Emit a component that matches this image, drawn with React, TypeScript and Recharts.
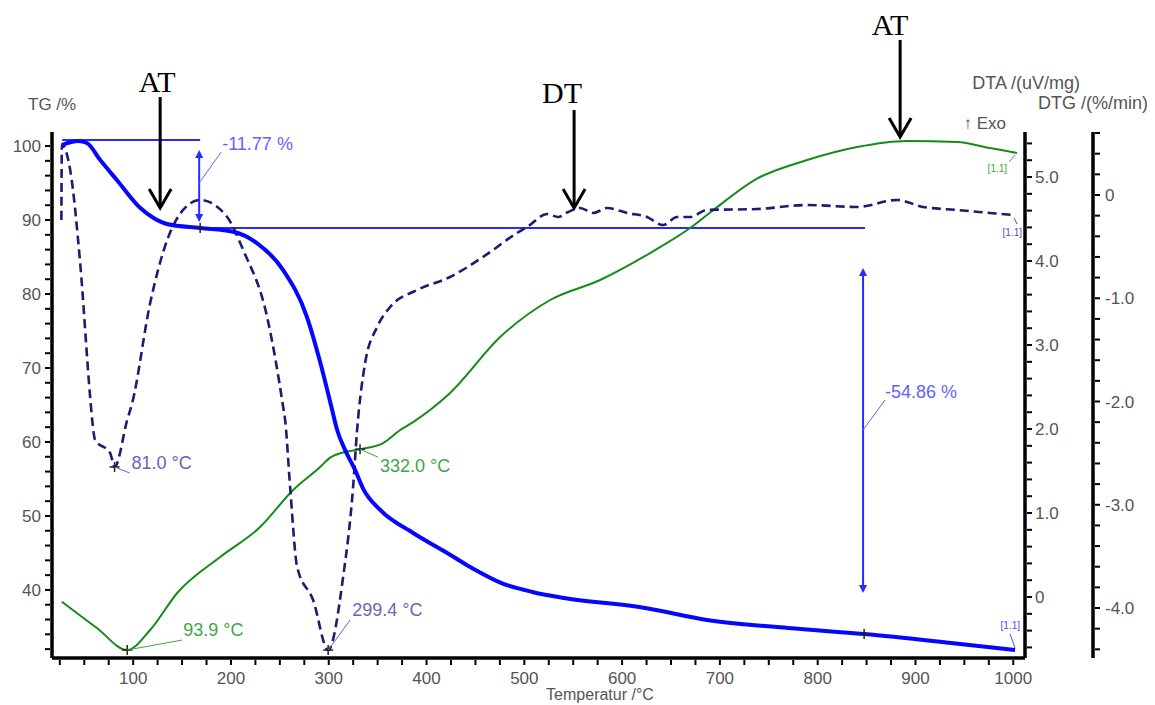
import React from 'react';
import { LineChart, Line, XAxis, YAxis, ReferenceLine, ReferenceDot } from 'recharts';

// TG /% (solid blue)
const tgTemp = [27.1, 43.8, 52.7, 66.3, 83.3, 107.4, 120.5, 134.5, 168.5, 202.2, 226.5, 253.4, 277.6, 291.2, 303.5, 308.6, 316.8, 326.9, 335.1, 352.6, 386.3, 421.1, 444.6, 477.3, 508.2, 540.7, 623.5, 686.9, 769.7, 847.5, 936.4, 1001.8];
const tgValues = [100.14, 100.68, 100.41, 98.1, 95.41, 91.62, 90.3, 89.46, 88.92, 88.42, 86.89, 83.24, 76.93, 70.81, 64.32, 61.62, 58.9, 56.22, 53.7, 50.81, 47.7, 45.0, 43.11, 40.9, 39.73, 38.92, 37.57, 35.95, 34.86, 34.05, 32.84, 31.89];

// DTA /(uV/mg) (green)
const dtaTemp = [27.1, 62.9, 93.9, 117.4, 145.0, 188.9, 229.8, 263.6, 291.2, 301.4, 314.7, 332.0, 355.6, 373.0, 386.3, 424.1, 475.3, 526.4, 577.5, 628.6, 669.5, 692.0, 738.0, 789.2, 840.3, 891.4, 942.5, 976.3, 1003.9];
const dtaValues = [-0.056, -0.369, -0.631, -0.393, 0.048, 0.476, 0.833, 1.274, 1.548, 1.66, 1.72, 1.76, 1.833, 1.988, 2.083, 2.429, 3.095, 3.536, 3.774, 4.095, 4.393, 4.595, 4.98, 5.202, 5.357, 5.429, 5.417, 5.345, 5.286];

// DTG /(%/min) (dashed navy)
const dtgTemp = [26.6, 27.1, 35.6, 45.8, 56.0, 58.1, 61.1, 76.5, 81.0, 93.9, 99.0, 117.4, 134.8, 151.1, 168.5, 196.1, 212.5, 237.0, 253.4, 255.4, 260.5, 267.7, 284.0, 299.4, 314.7, 324.9, 329.0, 337.2, 349.5, 362.8, 390.4, 424.1, 457.8, 492.6, 502.9, 523.3, 534.6, 544.8, 557.0, 570.3, 584.7, 605.1, 625.5, 641.9, 656.2, 669.5, 686.9, 738.0, 789.2, 840.3, 881.2, 907.8, 942.5, 976.3, 999.8];
const dtgValues = [-0.242, 0.484, 0.242, -0.659, -1.956, -2.179, -2.373, -2.499, -2.634, -2.179, -2.015, -1.046, -0.436, -0.145, -0.048, -0.213, -0.533, -1.182, -2.053, -2.179, -2.828, -3.603, -3.923, -4.407, -3.7, -2.828, -2.276, -1.627, -1.278, -1.085, -0.92, -0.794, -0.6, -0.368, -0.31, -0.184, -0.213, -0.165, -0.126, -0.174, -0.126, -0.174, -0.213, -0.291, -0.213, -0.213, -0.145, -0.136, -0.097, -0.116, -0.048, -0.116, -0.145, -0.174, -0.194];

// tick labels
const X_LABELS = [100, 200, 300, 400, 500, 600, 700, 800, 900, 1000];
const TG_LABELS = [40, 50, 60, 70, 80, 90, 100];
const DTA_LABELS = [0, 1, 2, 3, 4, 5];
const DTG_LABELS = [-4, -3, -2, -1, 0];

const FONT = '"Liberation Sans", Arial, sans-serif';
const SERIF = '"Liberation Serif", "Times New Roman", serif';
const TICK_COLOR = '#555';
const TG_BLUE = '#0606ff';
const DTA_GREEN = '#168a1c';
const DTG_NAVY = '#1c1c70';
const NOTE_BLUE = '#2a2aff';
const NOTE_BLUE_TEXT = '#6262ff';
const DTG_TEXT = '#6666b8';
const DTA_TEXT = '#42a642';

const toRows = (ts: number[], vs: number[]) => ts.map((t, i) => ({ t, v: vs[i] }));
const tgData = toRows(tgTemp, tgValues);
const dtaData = toRows(dtaTemp, dtaValues);
const dtgData = toRows(dtgTemp, dtgValues);

const steps = (from: number, to: number, step: number) => {
  const out: number[] = [];
  for (let i = 0; from + i * step <= to + 1e-9; i++) out.push(Math.round((from + i * step) * 100) / 100);
  return out;
};
const isMajor = (list: number[], v: number) => list.some((l) => Math.abs(l - v) < 1e-6);
const fmt1 = (v: number) => (Math.abs(v) < 1e-6 ? '0' : v.toFixed(1));

const XTick = ({ x, y, payload }: any) => (
  <g>
    <line x1={x} y1={y} x2={x} y2={y + 5} stroke="#000" strokeWidth={2} />
    {isMajor(X_LABELS, payload.value) && (
      <text x={x} y={y + 24} textAnchor="middle" fill={TICK_COLOR} fontSize={17} fontFamily={FONT}>
        {payload.value}
      </text>
    )}
  </g>
);

const LeftTick = ({ x, y, payload }: any) => (
  <g>
    <line x1={x - 5} y1={y} x2={x} y2={y} stroke="#000" strokeWidth={2} />
    {isMajor(TG_LABELS, payload.value) && (
      <text x={x - 9} y={y + 6} textAnchor="end" fill={TICK_COLOR} fontSize={17} fontFamily={FONT}>
        {payload.value}
      </text>
    )}
  </g>
);

const rightTick = (labels: number[], gap: number) => ({ x, y, payload }: any) => (
  <g>
    <line x1={x} y1={y} x2={x + 5} y2={y} stroke="#000" strokeWidth={2} />
    {isMajor(labels, payload.value) && (
      <text x={x + gap} y={y + 6} textAnchor="start" fill={TICK_COLOR} fontSize={17} fontFamily={FONT}>
        {fmt1(payload.value)}
      </text>
    )}
  </g>
);

const Cross = ({ cx, cy }: { cx: number; cy: number }) => (
  <g stroke="#222" strokeWidth={1.5}>
    <line x1={cx - 5} y1={cy} x2={cx + 5} y2={cy} />
    <line x1={cx} y1={cy - 5} x2={cx} y2={cy + 5} />
  </g>
);

// marker + leader + text, offsets in px from the marked point
const note = (text: string, color: string, lx: number, ly: number, tx: number, ty: number, cross = true) => (props: any) => {
  const { cx, cy } = props;
  return (
    <g>
      {cross && <Cross cx={cx} cy={cy} />}
      <line x1={cx} y1={cy} x2={cx + lx} y2={cy + ly} stroke={color} strokeWidth={1} />
      <text x={cx + tx} y={cy + ty} fill={color} fontSize={18} fontFamily={FONT}>
        {text}
      </text>
    </g>
  );
};

const endTag = (color: string, tx: number, ty: number, l: number[]) => (props: any) => {
  const { cx, cy } = props;
  return (
    <g>
      <line x1={cx + l[0]} y1={cy + l[1]} x2={cx + l[2]} y2={cy + l[3]} stroke={color} strokeWidth={1} />
      <text x={cx + tx} y={cy + ty} fill={color} fontSize={10} fontFamily={FONT} textAnchor="end">
        [1.1]
      </text>
    </g>
  );
};

// big black arrow pointing down at a feature
const callout = (text: string, len: number, textDx: number, textGap: number) => (props: any) => {
  const { cx, cy } = props;
  return (
    <g>
      <line x1={cx} y1={cy - len} x2={cx} y2={cy - 2} stroke="#000" strokeWidth={3} />
      <polyline points={`${cx - 11},${cy - 19} ${cx},${cy} ${cx + 11},${cy - 19}`} fill="none" stroke="#000" strokeWidth={3} />
      <text x={cx + textDx} y={cy - len - textGap} textAnchor="middle" fontFamily={SERIF} fontSize={30} fill="#000">
        {text}
      </text>
    </g>
  );
};

const DoubleArrow = (props: any) => {
  const { x1, y1, x2, y2 } = props;
  const top = Math.min(y1, y2);
  const bot = Math.max(y1, y2);
  return (
    <g>
      <line x1={x1} y1={top + 2} x2={x2} y2={bot - 2} stroke={NOTE_BLUE} strokeWidth={2} />
      <path d={`M${x1 - 4},${top + 8} L${x1},${top} L${x1 + 4},${top + 8} Z`} fill={NOTE_BLUE} />
      <path d={`M${x2 - 4},${bot - 8} L${x2},${bot} L${x2 + 4},${bot - 8} Z`} fill={NOTE_BLUE} />
    </g>
  );
};

const axisLine = { stroke: '#000', strokeWidth: 3.5 };

export default function App() {
  return (
    <div style={{ position: 'relative', width: 1147, height: 697 }}>
      <LineChart width={1147} height={697} margin={{ top: 124, right: 12, bottom: 0, left: 0 }}>
        <XAxis
          dataKey="t"
          type="number"
          domain={[17, 1012]}
          allowDataOverflow
          ticks={steps(25, 1000, 25)}
          interval={0}
          tickSize={0}
          tickLine={false}
          tick={<XTick />}
          axisLine={axisLine}
          height={47}
        />
        <YAxis
          yAxisId="tg"
          orientation="left"
          type="number"
          domain={[30.8, 101.9]}
          allowDataOverflow
          ticks={steps(32, 100, 2)}
          interval={0}
          tickSize={0}
          tickLine={false}
          tick={<LeftTick />}
          axisLine={axisLine}
          width={44}
        />
        <YAxis
          yAxisId="dta"
          orientation="right"
          type="number"
          domain={[-0.726, 5.536]}
          allowDataOverflow
          ticks={steps(-0.6, 5.4, 0.2)}
          interval={0}
          tickSize={0}
          tickLine={false}
          tick={rightTick(DTA_LABELS, 8)}
          axisLine={axisLine}
          width={68}
        />
        <YAxis
          yAxisId="dtg"
          orientation="right"
          type="number"
          domain={[-4.484, 0.61]}
          allowDataOverflow
          ticks={steps(-4.4, 0.6, 0.2)}
          interval={0}
          tickSize={0}
          tickLine={false}
          tick={rightTick(DTG_LABELS, 10)}
          axisLine={axisLine}
          width={50}
        />

        {/* step evaluation lines */}
        <ReferenceLine yAxisId="tg" segment={[{ x: 27.4, y: 100.81 }, { x: 168.5, y: 100.81 }]} stroke={NOTE_BLUE} strokeWidth={2} />
        <ReferenceLine yAxisId="tg" segment={[{ x: 168.5, y: 88.92 }, { x: 848.5, y: 88.92 }]} stroke={NOTE_BLUE} strokeWidth={2} />
        <ReferenceLine yAxisId="tg" segment={[{ x: 167.5, y: 99.46 }, { x: 167.5, y: 89.73 }]} shape={DoubleArrow} />
        <ReferenceLine yAxisId="tg" segment={[{ x: 846.4, y: 83.51 }, { x: 846.4, y: 39.59 }]} shape={DoubleArrow} />

        <Line data={dtaData} yAxisId="dta" dataKey="v" type="monotoneX" stroke={DTA_GREEN} strokeWidth={2} dot={false} isAnimationActive={false} />
        <Line data={dtgData} yAxisId="dtg" dataKey="v" type="monotoneX" stroke={DTG_NAVY} strokeWidth={2.6} strokeDasharray="9 5" dot={false} isAnimationActive={false} />
        <Line data={tgData} yAxisId="tg" dataKey="v" type="monotoneX" stroke={TG_BLUE} strokeWidth={4} dot={false} isAnimationActive={false} />

        <ReferenceDot yAxisId="tg" x={167.5} y={95.0} ifOverflow="visible" shape={note('-11.77 %', NOTE_BLUE_TEXT, 22, -31, 23, -33, false)} />
        <ReferenceDot yAxisId="tg" x={846.4} y={61.62} ifOverflow="visible" shape={note('-54.86 %', NOTE_BLUE_TEXT, 22, -30, 22, -32, false)} />
        <ReferenceDot yAxisId="tg" x={168.5} y={88.92} ifOverflow="visible" shape={(p: any) => <Cross cx={p.cx} cy={p.cy} />} />
        <ReferenceDot yAxisId="tg" x={847.5} y={34.05} ifOverflow="visible" shape={(p: any) => <Cross cx={p.cx} cy={p.cy} />} />
        <ReferenceDot yAxisId="dtg" x={81.0} y={-2.634} ifOverflow="visible" shape={note('81.0 °C', DTG_TEXT, 15, 6, 17, 2)} />
        <ReferenceDot yAxisId="dtg" x={299.4} y={-4.407} ifOverflow="visible" shape={note('299.4 °C', DTG_TEXT, 22, -30, 24, -34)} />
        <ReferenceDot yAxisId="dta" x={93.9} y={-0.631} ifOverflow="visible" shape={note('93.9 °C', DTA_TEXT, 55, -10, 56, -14)} />
        <ReferenceDot yAxisId="dta" x={332.0} y={1.76} ifOverflow="visible" shape={note('332.0 °C', DTA_TEXT, 18, 8, 20, 23)} />

        <ReferenceDot yAxisId="dta" x={1003.9} y={5.286} ifOverflow="visible" shape={endTag(DTA_TEXT, -10, 19, [-8, 9, -2, 2])} />
        <ReferenceDot yAxisId="dtg" x={999.8} y={-0.194} ifOverflow="visible" shape={endTag('#5050b0', 9, 21, [1, 3, 4, 9])} />
        <ReferenceDot yAxisId="tg" x={1001.8} y={31.89} ifOverflow="visible" shape={endTag('#4a4aff', 5, -21, [-5, -16, 0, -2])} />

        <ReferenceDot yAxisId="tg" x={127.6} y={91.62} ifOverflow="visible" shape={callout('AT', 111, -3, 5)} />
        <ReferenceDot yAxisId="tg" x={550.9} y={91.62} ifOverflow="visible" shape={callout('DT', 98, -12, 7)} />
        <ReferenceDot yAxisId="tg" x={884.3} y={101.22} ifOverflow="visible" shape={callout('AT', 97, -10, 5)} />
      </LineChart>

      <svg width={1147} height={697} style={{ position: 'absolute', left: 0, top: 0, pointerEvents: 'none' }}>
        <g fill={TICK_COLOR} fontFamily={FONT}>
          <text x={20} y={102} fontSize={17}>TG /%</text>
          <text x={1072} y={81} textAnchor="end" fontSize={18}>DTA /(uV/mg)</text>
          <text x={1140} y={101} textAnchor="end" fontSize={18}>DTG /(%/min)</text>
          <text x={998} y={121} textAnchor="end" fontSize={17}>↑ Exo</text>
          <text x={592} y={692} textAnchor="middle" fontSize={16}>Temperatur /°C</text>
        </g>
      </svg>
    </div>
  );
}
